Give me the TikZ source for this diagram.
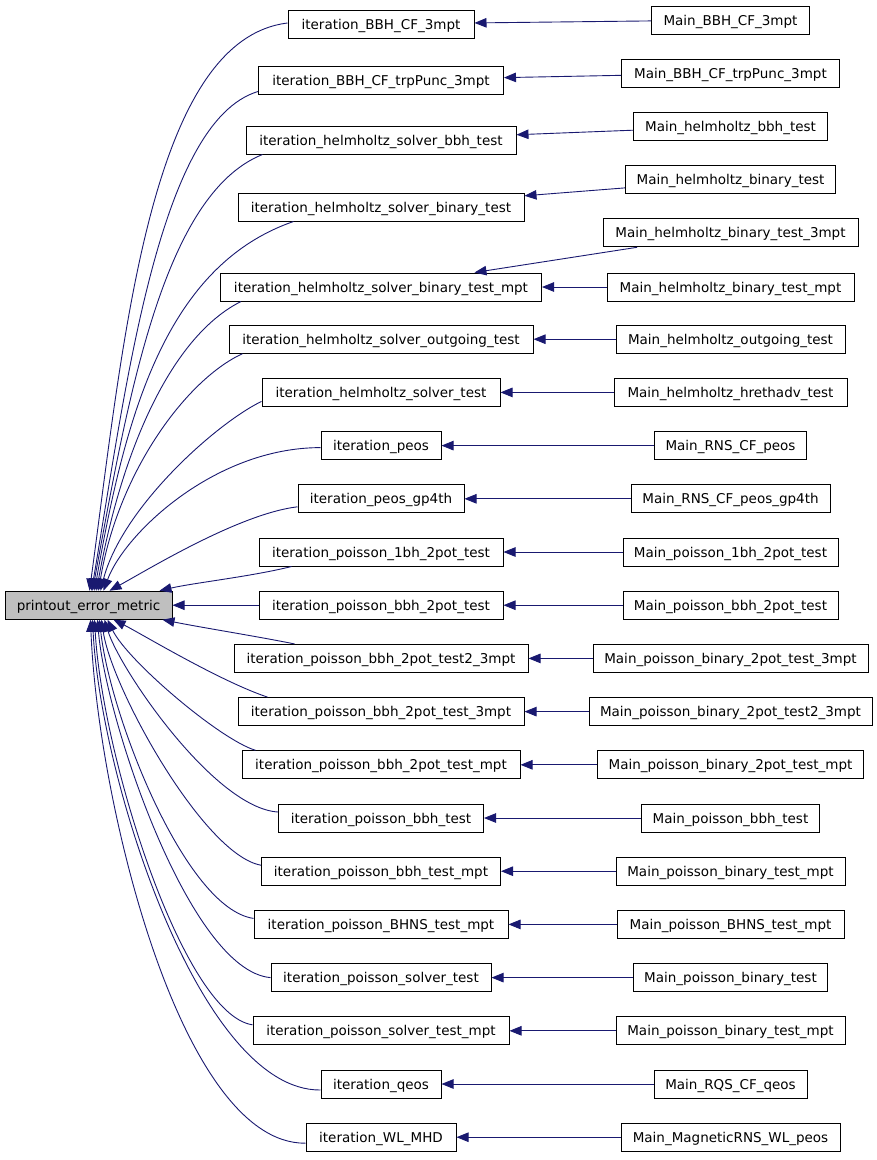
\documentclass[tikz,border=0pt]{standalone}
\usepackage{fontspec}
\setmainfont{DejaVu Sans}
\usetikzlibrary{arrows.meta}
\definecolor{edgecol}{HTML}{191970}
\definecolor{hifill}{HTML}{BFBFBF}
\begin{document}
\begin{tikzpicture}[x=1pt,y=-1pt,
  box/.style={draw=black, line width=1pt, minimum height=28pt, inner sep=0pt,
    text height=10pt, text depth=0pt, font=\fontsize{13.5}{16}\selectfont},
  bw/.style={minimum width=#1pt},
  link/.style={draw=edgecol, line width=0.9pt, -{Triangle[length=12pt,width=9.5pt]}}]
\useasboundingbox (0,0) rectangle (877,1160);
% central node
\node[box, bw=167, fill=hifill] (P) at (88.5,605.2) {printout\_error\_metric};
% callers
\node[box, bw=186] (I1) at (381,24) {iteration\_BBH\_CF\_3mpt};
\node[box, bw=245] (I2) at (381,80) {iteration\_BBH\_CF\_trpPunc\_3mpt};
\node[box, bw=270] (I3) at (381,140) {iteration\_helmholtz\_solver\_bbh\_test};
\node[box, bw=286] (I4) at (381,207) {iteration\_helmholtz\_solver\_binary\_test};
\node[box, bw=321] (I5) at (381,287) {iteration\_helmholtz\_solver\_binary\_test\_mpt};
\node[box, bw=304] (I6) at (381,339.2) {iteration\_helmholtz\_solver\_outgoing\_test};
\node[box, bw=238] (I7) at (381,392.4) {iteration\_helmholtz\_solver\_test};
\node[box, bw=120] (I8) at (381,445.6) {iteration\_peos};
\node[box, bw=166] (I9) at (381,498.8) {iteration\_peos\_gp4th};
\node[box, bw=244] (I10) at (381,552) {iteration\_poisson\_1bh\_2pot\_test};
\node[box, bw=244] (I11) at (381,605.2) {iteration\_poisson\_bbh\_2pot\_test};
\node[box, bw=294] (I12) at (381,658.4) {iteration\_poisson\_bbh\_2pot\_test2\_3mpt};
\node[box, bw=286] (I13) at (381,711.6) {iteration\_poisson\_bbh\_2pot\_test\_3mpt};
\node[box, bw=278] (I14) at (381,764.8) {iteration\_poisson\_bbh\_2pot\_test\_mpt};
\node[box, bw=205] (I15) at (381,818) {iteration\_poisson\_bbh\_test};
\node[box, bw=239] (I16) at (381,871.2) {iteration\_poisson\_bbh\_test\_mpt};
\node[box, bw=254] (I17) at (381,924.4) {iteration\_poisson\_BHNS\_test\_mpt};
\node[box, bw=220] (I18) at (381,977.6) {iteration\_poisson\_solver\_test};
\node[box, bw=256] (I19) at (381,1030.8) {iteration\_poisson\_solver\_test\_mpt};
\node[box, bw=120] (I20) at (381,1084) {iteration\_qeos};
\node[box, bw=150] (I21) at (381,1137.2) {iteration\_WL\_MHD};
% mains
\node[box, bw=158] (M1) at (730.5,20) {Main\_BBH\_CF\_3mpt};
\node[box, bw=218] (M2) at (730.5,73.2) {Main\_BBH\_CF\_trpPunc\_3mpt};
\node[box, bw=194] (M3) at (730.5,126.4) {Main\_helmholtz\_bbh\_test};
\node[box, bw=210] (M4) at (730.5,179.6) {Main\_helmholtz\_binary\_test};
\node[box, bw=255] (M5a) at (730.5,232.8) {Main\_helmholtz\_binary\_test\_3mpt};
\node[box, bw=247] (M5b) at (730.5,287) {Main\_helmholtz\_binary\_test\_mpt};
\node[box, bw=229] (M6) at (730.5,339.2) {Main\_helmholtz\_outgoing\_test};
\node[box, bw=233] (M7) at (730.5,392.4) {Main\_helmholtz\_hrethadv\_test};
\node[box, bw=152] (M8) at (730.5,445.6) {Main\_RNS\_CF\_peos};
\node[box, bw=199] (M9) at (730.5,498.8) {Main\_RNS\_CF\_peos\_gp4th};
\node[box, bw=215] (M10) at (730.5,552) {Main\_poisson\_1bh\_2pot\_test};
\node[box, bw=215] (M11) at (730.5,605.2) {Main\_poisson\_bbh\_2pot\_test};
\node[box, bw=275] (M12) at (730.5,658.4) {Main\_poisson\_binary\_2pot\_test\_3mpt};
\node[box, bw=283] (M13) at (730.5,711.6) {Main\_poisson\_binary\_2pot\_test2\_3mpt};
\node[box, bw=266] (M14) at (730.5,764.8) {Main\_poisson\_binary\_2pot\_test\_mpt};
\node[box, bw=178] (M15) at (730.5,818) {Main\_poisson\_bbh\_test};
\node[box, bw=229] (M16) at (730.5,871.2) {Main\_poisson\_binary\_test\_mpt};
\node[box, bw=227] (M17) at (730.5,924.4) {Main\_poisson\_BHNS\_test\_mpt};
\node[box, bw=194] (M18) at (730.5,977.6) {Main\_poisson\_binary\_test};
\node[box, bw=229] (M19) at (730.5,1030.8) {Main\_poisson\_binary\_test\_mpt};
\node[box, bw=153] (M20) at (730.5,1084) {Main\_RQS\_CF\_qeos};
\node[box, bw=219] (M21) at (730.5,1137.2) {Main\_MagneticRNS\_WL\_peos};
% main -> iteration edges
\foreach \k in {1,2,3,4,6,7,8,9,10,11,12,13,14,15,16,17,18,19,20,21}
  \draw[link] (M\k) -- (I\k);
\draw[link] (M5a) -- (I5);
\draw[link] (M5b) -- (I5);
% iteration -> printout edges (top side)
\draw[link] ([yshift=1pt]I1.west) .. controls +(-138,17) and +(34,-250) .. ([xshift=85pt]P.north west);
\draw[link] ([yshift=3pt]I2.south west) .. controls +(-100,30) and +(34,-200) .. ([xshift=87pt]P.north west);
\draw[link] ([xshift=17pt]I3.south west) .. controls +(-100,40) and +(35,-190) .. ([xshift=88pt]P.north west);
\draw[link] ([xshift=56pt]I4.south west) .. controls +(-130,45) and +(30,-170) .. ([xshift=90pt]P.north west);
\draw[link] ([xshift=21pt]I5.south west) .. controls +(-70,35) and +(25,-140) .. ([xshift=92pt]P.north west);
\draw[link] ([xshift=14pt]I6.south west) .. controls +(-55,25) and +(20,-120) .. ([xshift=94pt]P.north west);
\draw[link] ([yshift=-9pt]I7.west) .. controls +(-47,23) and +(21,-82) .. ([xshift=96pt]P.north west);
\draw[link] ([yshift=-2pt]I8.west) .. controls +(-106,0) and +(21,-57) .. ([xshift=99pt]P.north west);
\draw[link] ([yshift=-8pt]I9.west) .. controls +(-58,7) and +(40,-22) .. ([xshift=105pt]P.north west);
\draw[link] ([xshift=33pt]I10.south west) .. controls +(-40,10) and +(35,-8) .. ([xshift=155pt]P.north west);
\draw[link] (I11) -- (P);
% bottom side
\draw[link] ([xshift=61pt]I12.north west) .. controls +(-40,-8) and +(40,8) .. ([xshift=158pt]P.south west);
\draw[link] ([xshift=30pt]I13.north west) .. controls +(-48,-16) and +(26,13) .. ([xshift=109pt]P.south west);
\draw[link] ([xshift=14pt]I14.north west) .. controls +(-36,-11) and +(20,41) .. ([xshift=103pt]P.south west);
\draw[link] ([yshift=6pt]I15.west) .. controls +(-64,-4) and +(15,49) .. ([xshift=100pt]P.south west);
\draw[link] ([yshift=6pt]I16.west) .. controls +(-57,-10) and +(10,69) .. ([xshift=97pt]P.south west);
\draw[link] ([yshift=6pt]I17.west) .. controls +(-69,-10) and +(10,94) .. ([xshift=95pt]P.south west);
\draw[link] (I18.west) .. controls +(-81,-7) and +(8,99) .. ([xshift=93pt]P.south west);
\draw[link] ([yshift=6pt]I19.west) .. controls +(-69,-10) and +(8,139) .. ([xshift=90pt]P.south west);
\draw[link] ([yshift=-6pt]I20.west) .. controls +(-121,1) and +(8,159) .. ([xshift=88pt]P.south west);
\draw[link] ([yshift=-6pt]I21.west) .. controls +(-126,1) and +(7,179) .. ([xshift=86pt]P.south west);
\end{tikzpicture}
\end{document}
